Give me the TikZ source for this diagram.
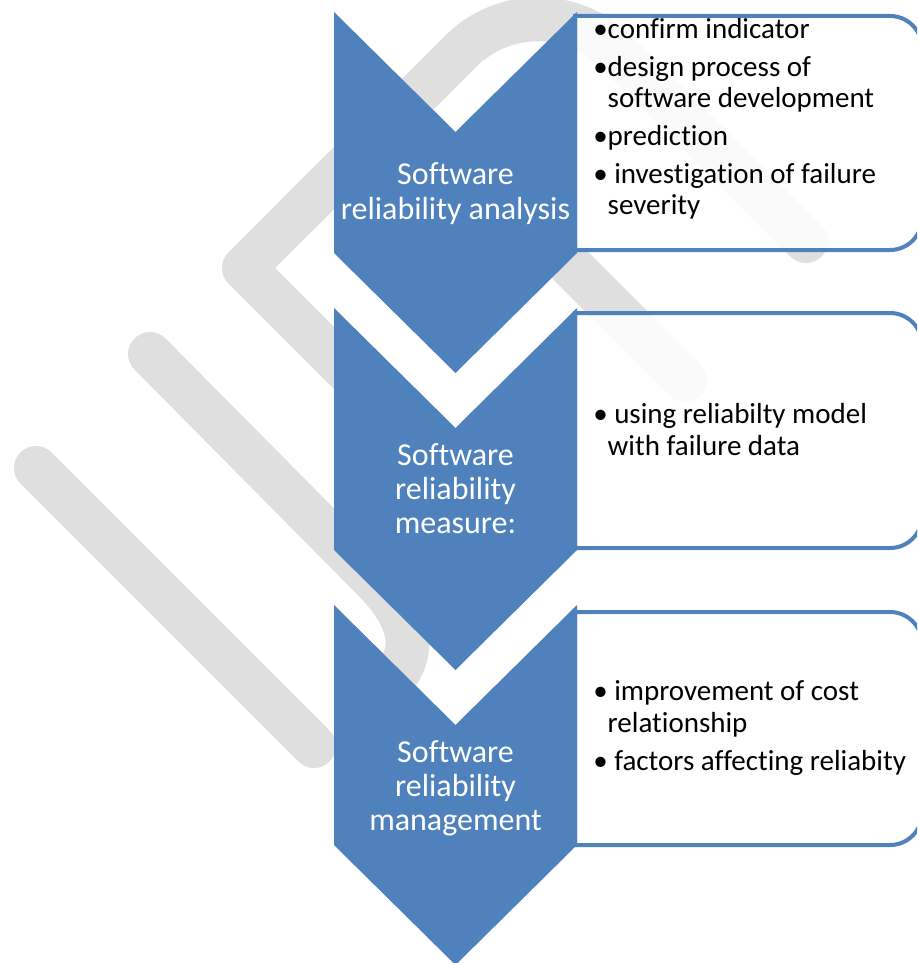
\documentclass[tikz,border=0pt]{standalone}
\usepackage{fontspec}
\setmainfont{Carlito}[Ligatures=NoCommon]
\usepackage{tikz}
\definecolor{chevblue}{HTML}{4F81BD}
\definecolor{markgray}{HTML}{DFDFDF}

\begin{document}
\begin{tikzpicture}[x=0.75pt,y=-0.75pt]
\tikzstyle{every node}+=[inner sep=0pt]
\tikzstyle{wmark}=[draw=markgray, line width=33pt, line cap=round, line join=round]
\tikzstyle{chev}=[fill=chevblue]
\tikzstyle{listbox}=[draw=chevblue, line width=3pt, fill=white, fill opacity=0.85]
\tikzstyle{steptext}=[text=white, font=\fontsize{24}{25.5}\selectfont, anchor=base]
\tikzstyle{itemtext}=[text=black, font=\fontsize{21.75}{24}\selectfont, anchor=base west]
\useasboundingbox (0,0) rectangle (917,963);
\clip (0,0) rectangle (917,963);
\fill [white] (0,0) rectangle (917,963);
\draw [wmark] (36,468) -- (314,746);
\draw [wmark] (150,354) -- (370,576) .. controls (420,626) and (420,660) .. (370,705);
\draw [wmark] (520,544) -- (244,268) -- (330,182);
\draw [wmark, rounded corners=82pt] (300,212) -- (538,-26) -- (806,241);
\draw [wmark] (470,165) -- (685,380);
\draw [listbox] (575,16) -- (890,16) arc [start angle=-90, end angle=0, radius=32] -- (922,218) arc [start angle=0, end angle=90, radius=32] -- (575,250) -- cycle;
\draw [listbox] (575,313) -- (890,313) arc [start angle=-90, end angle=0, radius=32] -- (922,516) arc [start angle=0, end angle=90, radius=32] -- (575,548) -- cycle;
\draw [listbox] (575,612) -- (890,612) arc [start angle=-90, end angle=0, radius=32] -- (922,813) arc [start angle=0, end angle=90, radius=32] -- (575,845) -- cycle;
\fill [chev] (334,12) -- (455.5,132) -- (577,12) -- (577,253) -- (455.5,373) -- (334,253) -- cycle;
\fill [chev] (334,308) -- (455.5,428) -- (577,308) -- (577,550) -- (455.5,670) -- (334,550) -- cycle;
\fill [chev] (334,605) -- (455.5,725) -- (577,605) -- (577,845) -- (455.5,965) -- (334,845) -- cycle;
\node [steptext] (analysis) at (455.5,185) {\parbox[t]{220pt}{\centering Software\\reliability analysis}};
\node [steptext] (measure) at (455.5,465) {\parbox[t]{220pt}{\centering Software\\reliability\\measure:}};
\node [steptext] (management) at (455.5,762) {\parbox[t]{220pt}{\centering Software\\reliability\\management}};
\node [itemtext, font=\fontsize{21.75}{23.25}\selectfont] (analysis-list) at (593,39) {\parbox[t]{240pt}{\raggedright
  •confirm indicator\\[5.25pt]
  •design process of\\
  \phantom{•}software development\\[5.25pt]
  •prediction\\[5.25pt]
  • investigation of failure\\
  \phantom{•}severity}};
\node [itemtext] (measure-list) at (593,423) {\parbox[t]{240pt}{\raggedright
  • using reliabilty model\\
  \phantom{•}with failure data}};
\node [itemtext] (management-list) at (593,700) {\parbox[t]{240pt}{\raggedright
  • improvement of cost\\
  \phantom{•}relationship\\[5pt]
  • factors affecting reliabity}};
\end{tikzpicture}
\end{document}
